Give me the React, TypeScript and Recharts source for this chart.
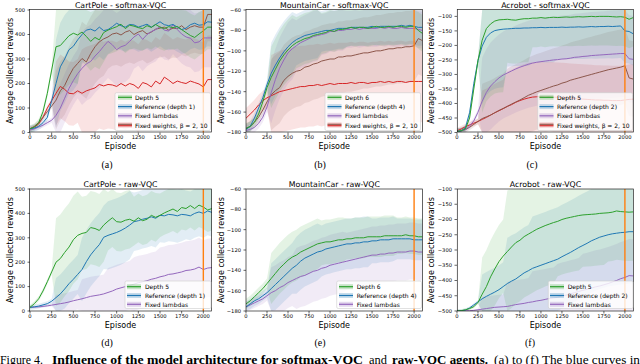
import React from 'react';
import { ComposedChart, Line, Area, XAxis, YAxis, ReferenceLine } from 'recharts';

const EPISODES = [0, 50, 100, 150, 200, 250, 300, 350, 400, 450, 500, 550, 600, 650, 700, 750, 800, 850, 900, 950, 1000, 1050, 1100, 1150, 1200, 1250, 1300, 1350, 1400, 1450, 1500, 1550, 1600, 1650, 1700, 1750, 1800, 1850, 1900, 1950, 2000, 2050, 2100];
const X_TICKS = [0, 250, 500, 750, 1000, 1250, 1500, 1750, 2000];
const CART_TICKS = [0, 100, 200, 300, 400, 500];
const MOUNT_TICKS = [-180, -160, -140, -120, -100, -80, -60];
const ACRO_TICKS = [-500, -450, -400, -350, -300, -250, -200, -150, -100];

const GREEN = '#2ca02c';
const BLUE = '#1f77b4';
const PURPLE = '#9467bd';
const RED = '#d62728';
const BROWN = '#8c564b';
const ORANGE = '#ff7f0e';

// ---------- (a) CartPole - softmax-VQC ----------
const aDepth5 = [15, 22, 40, 85, 160, 255, 350, 355, 375, 395, 405, 398, 410, 392, 372, 388, 378, 408, 418, 425, 432, 442, 424, 438, 434, 428, 424, 436, 429, 441, 430, 424, 432, 428, 433, 420, 408, 396, 388, 402, 415, 430, 430];
const aRef = [15, 18, 25, 40, 62, 130, 200, 268, 300, 338, 352, 378, 400, 418, 422, 414, 430, 416, 420, 432, 446, 436, 430, 441, 439, 430, 436, 442, 430, 441, 452, 440, 436, 441, 430, 420, 426, 440, 446, 438, 440, 452, 450];
const aLambdas = [10, 15, 22, 30, 40, 50, 70, 100, 140, 180, 212, 240, 262, 280, 290, 312, 330, 352, 372, 358, 338, 350, 356, 372, 390, 402, 380, 400, 412, 420, 432, 418, 414, 440, 420, 402, 390, 385, 366, 370, 386, 386, 386];
const aW10 = [15, 25, 40, 62, 85, 108, 132, 170, 192, 230, 262, 282, 302, 288, 322, 350, 370, 382, 390, 402, 406, 398, 410, 416, 400, 410, 416, 402, 410, 422, 426, 430, 418, 426, 424, 436, 420, 430, 436, 430, 430, 482, 482];
const aW2 = [15, 22, 35, 62, 100, 130, 160, 188, 176, 160, 158, 170, 160, 170, 176, 182, 196, 190, 196, 194, 188, 200, 190, 200, 194, 180, 204, 198, 186, 210, 198, 226, 214, 200, 210, 204, 200, 210, 204, 198, 186, 216, 216];
const aSpDepth5 = [15, 200, 120, 100, 90, 90, 90, 90];
const aSpRef = [15, 180, 120, 100, 100, 100, 100, 100];
const aSpLambdas = [10, 100, 150, 150, 130, 120, 120, 120];
const aSpW10 = [10, 120, 150, 130, 120, 120, 110, 110];
const aSpW2 = [10, 130, 180, 180, 180, 180, 180, 180];

// ---------- (b) MountainCar - softmax-VQC ----------
const bDepth6 = [-176, -174, -170, -162, -150, -136, -126, -118, -110, -104, -99, -95, -92, -90, -88, -87, -85, -84, -83, -82, -80, -81, -79, -79, -78, -77, -78, -77, -77, -78, -77, -76, -77, -77, -76, -77, -76, -76, -77, -76, -76, -80, -83];
const bRef = [-177, -174, -166, -156, -146, -133, -122, -114, -107, -101, -96, -92, -89, -87, -85, -84, -83, -82, -81, -80, -80, -79, -78, -78, -78, -77, -77, -77, -77, -77, -76, -77, -76, -76, -76, -76, -76, -75, -76, -75, -76, -77, -77];
const bLambdas = [-178, -177, -175, -171, -165, -155, -141, -128, -117, -109, -102, -98, -95, -92, -90, -88, -86, -85, -84, -83, -81, -81, -80, -80, -79, -79, -78, -79, -78, -78, -78, -78, -77, -78, -77, -78, -78, -77, -78, -78, -78, -79, -80];
const bW10 = [-176, -174, -170, -165, -158, -150, -143, -139, -136, -129, -125, -122, -120, -119, -116, -115, -113, -112, -110, -109, -108, -108, -106, -106, -105, -105, -104, -103, -102, -102, -101, -100, -100, -99, -98, -98, -97, -97, -96, -96, -95, -88, -90];
const bW2 = [-166, -162, -158, -153, -149, -146, -144, -142, -140, -139, -138, -137, -136, -135, -135, -134, -134, -133, -134, -133, -132, -133, -132, -132, -132, -131, -132, -131, -131, -132, -131, -131, -130, -131, -130, -131, -130, -130, -131, -130, -130, -130, -130];
const bSpDepth6 = [5, 30, 25, 20, 18, 18, 18, 18];
const bSpRef = [5, 30, 25, 20, 18, 18, 18, 18];
const bSpLambdas = [5, 30, 25, 20, 18, 18, 18, 18];
const bSpW10 = [5, 35, 35, 35, 35, 35, 35, 35];
const bSpW2 = [10, 40, 40, 40, 40, 40, 40, 40];

// ---------- (c) Acrobot - softmax-VQC ----------
const cDepth5 = [-496, -494, -488, -450, -350, -252, -182, -142, -126, -116, -112, -111, -110, -112, -113, -110, -108, -108, -106, -106, -104, -106, -104, -103, -104, -103, -102, -103, -102, -101, -102, -101, -100, -101, -100, -100, -100, -101, -102, -101, -103, -110, -104];
const cRef = [-497, -494, -484, -432, -332, -252, -202, -172, -157, -149, -146, -144, -143, -142, -141, -141, -140, -140, -139, -139, -138, -139, -138, -138, -138, -137, -138, -137, -137, -136, -137, -136, -135, -136, -135, -135, -134, -135, -134, -133, -150, -152, -160];
const cLambdas = [-496, -494, -490, -478, -460, -430, -392, -362, -340, -325, -312, -302, -295, -288, -281, -275, -270, -265, -261, -258, -256, -254, -252, -250, -249, -247, -246, -244, -241, -240, -238, -237, -235, -234, -233, -232, -231, -230, -229, -228, -228, -246, -248];
const cW10 = [-496, -494, -490, -482, -472, -462, -452, -446, -440, -432, -424, -417, -410, -402, -395, -388, -380, -372, -366, -360, -355, -350, -345, -340, -336, -330, -326, -320, -316, -312, -308, -304, -300, -296, -292, -288, -284, -281, -278, -275, -270, -312, -316];
const cW2 = [-494, -488, -480, -474, -468, -462, -455, -448, -440, -432, -425, -418, -410, -404, -396, -390, -385, -381, -378, -377, -376, -378, -376, -378, -379, -380, -381, -382, -383, -384, -385, -386, -387, -388, -388, -389, -389, -390, -390, -390, -388, -386, -385];
const cSpDepth5 = [10, 250, 150, 100, 100, 100, 100, 100];
const cSpRef = [10, 200, 130, 120, 110, 110, 110, 110];
const cSpLambdas = [10, 150, 150, 150, 150, 150, 150, 150];
const cSpW10 = [10, 120, 130, 130, 130, 130, 130, 130];
const cSpW2 = [10, 100, 120, 120, 120, 120, 120, 120];

// ---------- (d) CartPole - raw-VQC ----------
const dDepth5 = [15, 30, 50, 82, 120, 160, 200, 215, 240, 262, 292, 310, 318, 322, 342, 338, 330, 352, 368, 382, 366, 364, 372, 376, 368, 382, 370, 376, 392, 384, 392, 402, 410, 418, 408, 424, 420, 432, 420, 434, 426, 414, 420];
const dRef = [15, 17, 20, 25, 30, 40, 55, 70, 90, 112, 130, 150, 170, 202, 230, 252, 272, 302, 310, 316, 322, 330, 340, 352, 366, 370, 376, 380, 386, 380, 392, 390, 396, 394, 390, 396, 394, 390, 400, 406, 400, 410, 404];
const dLambdas = [15, 16, 17, 19, 21, 24, 27, 30, 33, 37, 42, 46, 50, 55, 60, 63, 66, 70, 76, 82, 90, 95, 100, 105, 110, 116, 120, 124, 130, 134, 140, 144, 150, 152, 156, 160, 166, 168, 172, 180, 170, 176, 178];
const dSpDepth5 = [10, 180, 150, 120, 100, 90, 90, 90];
const dSpRef = [10, 80, 130, 140, 120, 110, 100, 100];
const dSpLambdas = [5, 40, 80, 100, 110, 120, 120, 120];

// ---------- (e) MountainCar - raw-VQC ----------
const eDepth6 = [-173, -170, -166, -162, -158, -153, -148, -143, -138, -134, -130, -127, -125, -122, -120, -118, -116, -114, -113, -112, -112, -111, -110, -110, -109, -109, -108, -108, -108, -107, -107, -107, -107, -106, -106, -106, -106, -106, -105, -106, -106, -107, -107];
const eRef = [-176, -173, -170, -168, -165, -162, -158, -154, -150, -146, -142, -138, -135, -131, -128, -126, -124, -122, -121, -119, -118, -117, -116, -115, -114, -114, -113, -113, -112, -112, -111, -111, -110, -110, -110, -109, -109, -109, -109, -109, -110, -110, -110];
const eLambdas = [-176, -174, -172, -170, -168, -165, -162, -160, -157, -155, -152, -150, -148, -146, -145, -143, -141, -140, -138, -137, -135, -134, -133, -132, -131, -130, -129, -128, -127, -126, -125, -125, -124, -124, -123, -123, -122, -122, -122, -121, -121, -122, -122];
const eSpDepth6 = [5, 25, 25, 22, 20, 20, 18, 18];
const eSpRef = [5, 25, 28, 25, 25, 22, 20, 20];
const eSpLambdas = [5, 25, 30, 30, 28, 28, 28, 28];

// ---------- (f) Acrobot - raw-VQC ----------
const fDepth5 = [-500, -499, -496, -492, -486, -472, -445, -420, -388, -362, -338, -320, -305, -290, -276, -268, -256, -248, -240, -232, -226, -220, -215, -210, -206, -200, -196, -193, -190, -187, -185, -184, -183, -182, -180, -179, -178, -176, -172, -174, -175, -176, -175];
const fRef = [-500, -499, -497, -490, -480, -470, -460, -452, -445, -438, -430, -420, -410, -402, -395, -385, -375, -368, -360, -355, -350, -345, -340, -335, -330, -322, -315, -308, -300, -292, -285, -278, -270, -264, -258, -254, -250, -247, -245, -243, -242, -240, -240];
const fLambdas = [-500, -500, -499, -499, -498, -496, -494, -492, -490, -488, -487, -486, -485, -482, -479, -477, -475, -472, -470, -467, -465, -462, -459, -457, -455, -451, -448, -444, -440, -436, -432, -429, -425, -421, -418, -414, -410, -405, -400, -394, -390, -384, -385];
const fSpDepth5 = [5, 120, 200, 200, 180, 170, 160, 160];
const fSpRef = [5, 80, 150, 170, 170, 170, 170, 170];
const fSpLambdas = [3, 40, 80, 100, 110, 120, 120, 120];

type Series = { color: string; mean: number[]; spread: number[] };
type LegendEntry = { label: string; colors: string[] };
type PanelDef = {
  title: string;
  sub: string;
  subX: number;
  left: number;
  top: number;
  w: number;
  h: number;
  domain: [number, number];
  ticks: number[];
  series: Series[];
  legend: LegendEntry[];
  legBox: [number, number, number, number];
  sampleX: number;
  textX: number;
  rowYs: number[];
  ylabX: number;
};

const TOP_ROWS = [97.3, 106.6, 115.8, 125];
const BOT_ROWS = [286.7, 295.5, 304.3];

const PANELS: PanelDef[] = [
  {
    title: 'CartPole - softmax-VQC', sub: '(a)', subX: 107,
    left: 29.5, top: 9.5, w: 182, h: 122.5, domain: [0, 500], ticks: CART_TICKS,
    series: [
      { color: RED, mean: aW2, spread: aSpW2 },
      { color: BROWN, mean: aW10, spread: aSpW10 },
      { color: PURPLE, mean: aLambdas, spread: aSpLambdas },
      { color: BLUE, mean: aRef, spread: aSpRef },
      { color: GREEN, mean: aDepth5, spread: aSpDepth5 },
    ],
    legend: [
      { label: 'Depth 5', colors: [GREEN] },
      { label: 'Reference (depth 1)', colors: [BLUE] },
      { label: 'Fixed lambdas', colors: [PURPLE] },
      { label: 'Fixed weights, β = 2, 10', colors: [RED, BROWN] },
    ],
    legBox: [115, 92.7, 210.5, 130.5], sampleX: 118, textX: 135, rowYs: TOP_ROWS, ylabX: 10.5,
  },
  {
    title: 'MountainCar - softmax-VQC', sub: '(b)', subX: 320,
    left: 246, top: 9.5, w: 176.5, h: 122.5, domain: [-180, -60], ticks: MOUNT_TICKS,
    series: [
      { color: RED, mean: bW2, spread: bSpW2 },
      { color: BROWN, mean: bW10, spread: bSpW10 },
      { color: PURPLE, mean: bLambdas, spread: bSpLambdas },
      { color: BLUE, mean: bRef, spread: bSpRef },
      { color: GREEN, mean: bDepth6, spread: bSpDepth6 },
    ],
    legend: [
      { label: 'Depth 6', colors: [GREEN] },
      { label: 'Reference (depth 4)', colors: [BLUE] },
      { label: 'Fixed lambdas', colors: [PURPLE] },
      { label: 'Fixed weights, β = 2, 10', colors: [RED, BROWN] },
    ],
    legBox: [325, 92.7, 420.5, 130.5], sampleX: 327.5, textX: 345, rowYs: TOP_ROWS, ylabX: 221.5,
  },
  {
    title: 'Acrobot - softmax-VQC', sub: '(c)', subX: 532,
    left: 457.3, top: 9.5, w: 176.3, h: 122.5, domain: [-500, -78], ticks: ACRO_TICKS,
    series: [
      { color: RED, mean: cW2, spread: cSpW2 },
      { color: BROWN, mean: cW10, spread: cSpW10 },
      { color: PURPLE, mean: cLambdas, spread: cSpLambdas },
      { color: BLUE, mean: cRef, spread: cSpRef },
      { color: GREEN, mean: cDepth5, spread: cSpDepth5 },
    ],
    legend: [
      { label: 'Depth 5', colors: [GREEN] },
      { label: 'Reference (depth 2)', colors: [BLUE] },
      { label: 'Fixed lambdas', colors: [PURPLE] },
      { label: 'Fixed weights, β = 2, 10', colors: [RED, BROWN] },
    ],
    legBox: [537.7, 92.7, 632.5, 130.5], sampleX: 539.5, textX: 557, rowYs: TOP_ROWS, ylabX: 431.7,
  },
  {
    title: 'CartPole - raw-VQC', sub: '(d)', subX: 107,
    left: 29.5, top: 189, w: 182, h: 122, domain: [0, 500], ticks: CART_TICKS,
    series: [
      { color: PURPLE, mean: dLambdas, spread: dSpLambdas },
      { color: BLUE, mean: dRef, spread: dSpRef },
      { color: GREEN, mean: dDepth5, spread: dSpDepth5 },
    ],
    legend: [
      { label: 'Depth 5', colors: [GREEN] },
      { label: 'Reference (depth 1)', colors: [BLUE] },
      { label: 'Fixed lambdas', colors: [PURPLE] },
    ],
    legBox: [125, 281, 211, 308.5], sampleX: 127, textX: 145, rowYs: BOT_ROWS, ylabX: 10.5,
  },
  {
    title: 'MountainCar - raw-VQC', sub: '(e)', subX: 320,
    left: 246, top: 189, w: 176.5, h: 122, domain: [-180, -60], ticks: MOUNT_TICKS,
    series: [
      { color: PURPLE, mean: eLambdas, spread: eSpLambdas },
      { color: BLUE, mean: eRef, spread: eSpRef },
      { color: GREEN, mean: eDepth6, spread: eSpDepth6 },
    ],
    legend: [
      { label: 'Depth 6', colors: [GREEN] },
      { label: 'Reference (depth 4)', colors: [BLUE] },
      { label: 'Fixed lambdas', colors: [PURPLE] },
    ],
    legBox: [336.7, 281, 421.5, 308.5], sampleX: 339, textX: 356.7, rowYs: BOT_ROWS, ylabX: 221.5,
  },
  {
    title: 'Acrobot - raw-VQC', sub: '(f)', subX: 530,
    left: 457.3, top: 189, w: 176.3, h: 122, domain: [-500, -100], ticks: ACRO_TICKS,
    series: [
      { color: PURPLE, mean: fLambdas, spread: fSpLambdas },
      { color: BLUE, mean: fRef, spread: fSpRef },
      { color: GREEN, mean: fDepth5, spread: fSpDepth5 },
    ],
    legend: [
      { label: 'Depth 5', colors: [GREEN] },
      { label: 'Reference (depth 2)', colors: [BLUE] },
      { label: 'Fixed lambdas', colors: [PURPLE] },
    ],
    legBox: [548.3, 281, 633, 308.5], sampleX: 550, textX: 567.7, rowYs: BOT_ROWS, ylabX: 431.7,
  },
];

const SANS = '"DejaVu Sans", sans-serif';
const SERIF = '"Liberation Serif", "DejaVu Serif", serif';
const fmt = (v: number) => String(v).replace('-', '\u2212');

const ML = 34;
const MT = 4;

function PanelChart({ p }: { p: PanelDef }) {
  const [lo, hi] = p.domain;
  const clamp = (v: number) => Math.max(lo, Math.min(hi, v));
  const rows = EPISODES.map((ep, i) => {
    const r: Record<string, any> = { ep };
    p.series.forEach((s, k) => {
      const sp = s.spread[Math.min(s.spread.length - 1, Math.floor(ep / 300))];
      r['m' + k] = s.mean[i];
      r['b' + k] = [clamp(s.mean[i] - sp), clamp(s.mean[i] + sp)];
    });
    return r;
  });
  const W = p.w + ML + 4;
  const H = p.h + MT + 14;
  const tickStyle = { fontSize: 5.2, fill: '#000', fontFamily: SANS };
  return (
    <div style={{ position: 'absolute', left: p.left - ML, top: p.top - MT }}>
      <ComposedChart width={W} height={H} data={rows} margin={{ top: MT, right: 4, left: 0, bottom: 0 }}>
        <XAxis dataKey="ep" type="number" domain={[0, 2100]} ticks={X_TICKS} height={14}
          axisLine={false} tickLine={{ stroke: '#000', strokeWidth: 0.6 }} tickSize={2.5} tickMargin={0.5}
          tick={tickStyle} interval={0} allowDataOverflow />
        <YAxis type="number" domain={p.domain} ticks={p.ticks} width={ML} allowDataOverflow
          axisLine={false} tickLine={{ stroke: '#000', strokeWidth: 0.6 }} tickSize={2.5} tickMargin={2.5}
          tick={tickStyle} tickFormatter={fmt} interval={0} />
        {p.series.map((s, k) => (
          <Area key={'b' + k} dataKey={'b' + k} type="linear" stroke="none" fill={s.color}
            fillOpacity={0.13} isAnimationActive={false} activeDot={false} />
        ))}
        {p.series.map((s, k) => (
          <Line key={'m' + k} dataKey={'m' + k} type="linear" stroke={s.color} strokeWidth={1}
            dot={false} activeDot={false} isAnimationActive={false} />
        ))}
        <ReferenceLine x={2000} stroke={ORANGE} strokeWidth={1.4} ifOverflow="extendDomain" />
      </ComposedChart>
    </div>
  );
}

function Overlay() {
  return (
    <svg width={640} height={364} style={{ position: 'absolute', left: 0, top: 0, pointerEvents: 'none' }}>
      {PANELS.map((p, i) => {
        const cx = p.left + p.w / 2;
        const cy = p.top + p.h / 2;
        const [bx0, by0, bx1, by1] = p.legBox;
        return (
          <g key={i}>
            <rect x={p.left} y={p.top} width={p.w} height={p.h} fill="none" stroke="#222" strokeWidth={0.7} />
            <text x={cx} y={p.top - 4.5} textAnchor="middle" dominantBaseline="central"
              fontFamily={SANS} fontSize={7.8} fill="#000">{p.title}</text>
            <text x={cx} y={p.top + p.h + 14} textAnchor="middle" dominantBaseline="central"
              fontFamily={SANS} fontSize={8} fill="#000">Episode</text>
            <text x={p.ylabX} y={cy} textAnchor="middle" dominantBaseline="central"
              transform={`rotate(-90 ${p.ylabX} ${cy})`} fontFamily={SANS} fontSize={8} fill="#000">
              Average collected rewards
            </text>
            <text x={p.subX} y={p.top < 100 ? 164 : 342.5} textAnchor="middle" dominantBaseline="central"
              fontFamily={SERIF} fontSize={10} fill="#000">{p.sub}</text>
            <rect x={bx0} y={by0} width={bx1 - bx0} height={by1 - by0} rx={1.5} fill="#fff"
              fillOpacity={0.8} stroke="#ccc" strokeWidth={0.6} />
            {p.legend.map((e, j) => {
              const y = p.rowYs[j];
              return (
                <g key={j}>
                  <rect x={p.sampleX} y={y - 2.5} width={14} height={5} fill={e.colors[0]} fillOpacity={0.25} />
                  {e.colors.length === 1 ? (
                    <line x1={p.sampleX} x2={p.sampleX + 14} y1={y} y2={y} stroke={e.colors[0]} strokeWidth={1.2} />
                  ) : (
                    <g>
                      <line x1={p.sampleX} x2={p.sampleX + 14} y1={y + 0.7} y2={y + 0.7} stroke={e.colors[0]} strokeWidth={1.1} />
                      <line x1={p.sampleX} x2={p.sampleX + 14} y1={y - 0.7} y2={y - 0.7} stroke={e.colors[1]} strokeWidth={1.1} />
                    </g>
                  )}
                  <text x={p.textX} y={y} dominantBaseline="central" fontFamily={SANS} fontSize={6} fill="#000">{e.label}</text>
                </g>
              );
            })}
          </g>
        );
      })}
      <g fontFamily={SERIF} fontSize={12} fill="#000">
        <text x={0} y={364} textLength={43} lengthAdjust="spacingAndGlyphs">Figure 4.</text>
        <text x={52} y={364} fontWeight="bold" textLength={311} lengthAdjust="spacingAndGlyphs">Influence of the model architecture for softmax-VQC</text>
        <text x={369} y={364} textLength={18} lengthAdjust="spacingAndGlyphs">and</text>
        <text x={392} y={364} fontWeight="bold" textLength={96} lengthAdjust="spacingAndGlyphs">raw-VQC agents.</text>
        <text x={494} y={364} textLength={146} lengthAdjust="spacingAndGlyphs">(a) to (f) The blue curves in</text>
      </g>
    </svg>
  );
}

export default function App() {
  return (
    <div style={{ position: 'absolute', left: 0, top: 0, width: 640, height: 364, background: '#fff', overflow: 'hidden' }}>
      {PANELS.map((p, i) => <PanelChart key={i} p={p} />)}
      <Overlay />
    </div>
  );
}
